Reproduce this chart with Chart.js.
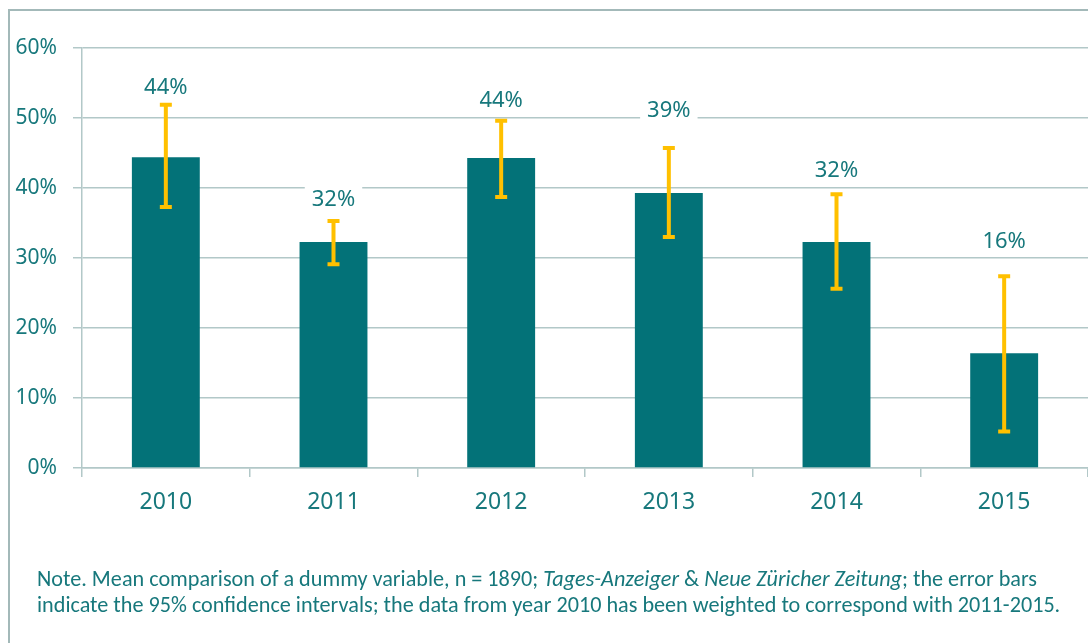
<!DOCTYPE html>
<html>
<head>
<meta charset="utf-8">
<script src="https://cdn.jsdelivr.net/npm/chart.js@4"></script>
<style>
  html, body { margin: 0; padding: 0; background: #fff; }
  #wrap { position: relative; width: 1088px; height: 643px; overflow: hidden; }
  #c { position: absolute; left: 0; top: 0; }
  #note {
    position: absolute; left: 37px; top: 566px; width: 1060px;
    font-family: "Carlito", "Noto Sans", sans-serif;
    font-size: 22.2px; line-height: 26px; color: #17787c; white-space: nowrap;
  }
</style>
</head>
<body>
<div id="wrap">
  <canvas id="c" width="1088" height="643"></canvas>
  <div id="note">Note. Mean comparison of a dummy variable, n = 1890; <i>Tages-Anzeiger</i> &amp; <i>Neue Züricher Zeitung</i>; the error bars<br>indicate the 95% confidence intervals; the data from year 2010 has been weighted to correspond with 2011-2015.</div>
</div>
<script>
const categories = ["2010", "2011", "2012", "2013", "2014", "2015"];
const meanValues = [44.4, 32.3, 44.3, 39.3, 32.3, 16.4];
const ciUpper   = [51.9, 35.3, 49.6, 45.7, 39.1, 27.4];
const ciLower   = [37.3, 29.1, 38.7, 33.0, 25.6, 5.2];
const labelAt   = [54.3, 38.3, 52.4, 51.0, 42.4, 32.3];
const yTicks    = [0, 10, 20, 30, 40, 50, 60];

const TEAL = "#037278";
const TEXT = "#17787c";
const GRID = "#b2c8c8";
const GOLD = "#FFC000";
const FONT = '"Noto Sans", "Open Sans", sans-serif';

const framePlugin = {
  id: "frame",
  beforeDraw(chart) {
    const ctx = chart.ctx;
    ctx.save();
    ctx.fillStyle = "#fff";
    ctx.fillRect(0, 0, chart.width, chart.height);
    ctx.strokeStyle = "#a3b9b9";
    ctx.lineWidth = 2;
    ctx.strokeRect(9, 10, 1300, 800);
    ctx.restore();
  }
};

const errorPlugin = {
  id: "errbars",
  afterDatasetsDraw(chart) {
    const ctx = chart.ctx;
    const x = chart.scales.x, y = chart.scales.y;
    ctx.save();
    ctx.strokeStyle = GOLD;
    ctx.lineWidth = 4;
    ctx.lineCap = "butt";
    categories.forEach((c, i) => {
      const px = x.getPixelForValue(i);
      const yt = y.getPixelForValue(ciUpper[i]);
      const yb = y.getPixelForValue(ciLower[i]);
      ctx.beginPath();
      ctx.moveTo(px, yt); ctx.lineTo(px, yb);
      ctx.moveTo(px - 6, yt); ctx.lineTo(px + 6, yt);
      ctx.moveTo(px - 6, yb); ctx.lineTo(px + 6, yb);
      ctx.stroke();
    });
    ctx.font = '22px ' + FONT;
    ctx.textAlign = "center";
    ctx.textBaseline = "middle";
    categories.forEach((c, i) => {
      const px = x.getPixelForValue(i);
      const py = y.getPixelForValue(labelAt[i]);
      const txt = Math.round(meanValues[i]) + "%";
      const w = ctx.measureText(txt).width + 14;
      ctx.fillStyle = "#fff";
      ctx.fillRect(px - w / 2, py - 13, w, 26);
      ctx.fillStyle = TEXT;
      ctx.fillText(txt, px, py);
    });
    ctx.restore();
  }
};

function draw() {
  new Chart(document.getElementById("c"), {
    type: "bar",
    data: {
      labels: categories,
      datasets: [{
        data: meanValues,
        backgroundColor: TEAL,
        borderWidth: 0,
        barPercentage: 0.405,
        categoryPercentage: 1.0
      }]
    },
    options: {
      responsive: false,
      animation: false,
      layout: { padding: { top: 48, left: 0, right: 0, bottom: 0 } },
      plugins: { legend: { display: false }, tooltip: { enabled: false } },
      scales: {
        y: {
          min: 0, max: 60,
          afterBuildTicks(s) { s.ticks = yTicks.map(v => ({ value: v })); },
          afterFit(s) { s.width = 82; },
          border: { color: GRID, width: 1.5 },
          grid: { color: GRID, lineWidth: 1.5, tickLength: 9, drawTicks: true },
          ticks: {
            padding: 16,
            color: TEXT,
            font: { family: FONT, size: 21 },
            callback: v => v + "%"
          }
        },
        x: {
          afterFit(s) { s.height = 175; },
          border: { color: GRID, width: 1.5 },
          grid: { display: true, drawOnChartArea: false, drawTicks: true, tickLength: 9, color: GRID, lineWidth: 1.5, offset: true },
          ticks: {
            padding: 12,
            color: TEXT,
            font: { family: FONT, size: 23 }
          }
        }
      }
    },
    plugins: [framePlugin, errorPlugin]
  });
}

Promise.all([
  document.fonts.load('21px "Noto Sans"'),
  document.fonts.load('22px "Carlito"'),
  document.fonts.load('italic 22px "Carlito"')
]).then(draw, draw);
</script>
</body>
</html>
